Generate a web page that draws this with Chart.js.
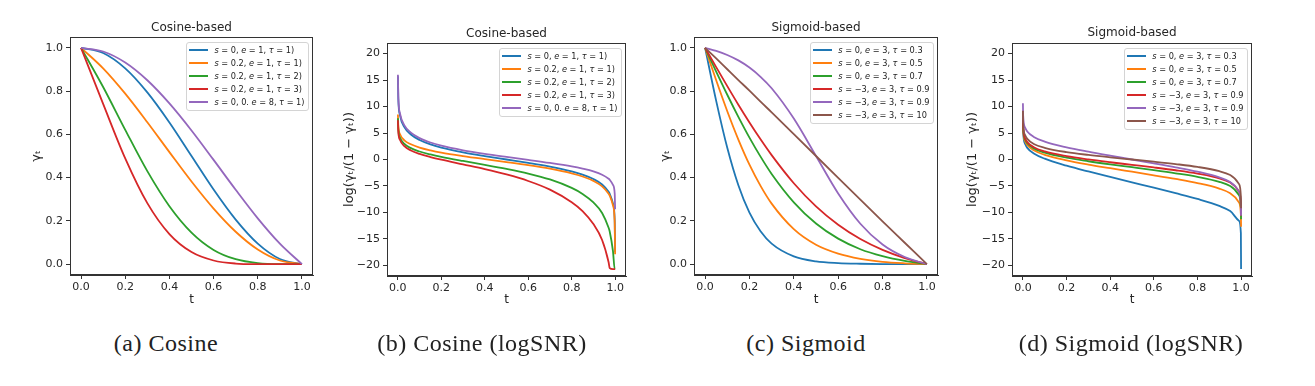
<!DOCTYPE html>
<html>
<head>
<meta charset="utf-8">
<script src="https://cdn.jsdelivr.net/npm/chart.js@4.4.0/dist/chart.umd.min.js"></script>
<style>
  body { margin: 0; background: #fff; }
  #fig { position: relative; width: 1315px; height: 386px; overflow: hidden; background: #fff; }
  .panel { position: absolute; top: 0; height: 310px; }
  .legend { position: absolute; border: 1px solid #d4d4d4; border-radius: 3px; background: rgba(255,255,255,0.85);
            padding: 1px 3px 1px 2px; font: 8.2px "DejaVu Sans"; color: #222; }
  .legend div { height: 13px; line-height: 13px; white-space: nowrap; }
  .legend .sw { display: inline-block; width: 19px; height: 2px; vertical-align: middle; margin-right: 6px; }
  .cap { position: absolute; top: 330px; font: 24px "Liberation Serif"; letter-spacing: 0.5px; color: #222; transform: translateX(-50%); white-space: nowrap; }
</style>
</head>
<body>
<div id="fig">
  <canvas id="c1" class="panel"></canvas>
  <canvas id="c2" class="panel"></canvas>
  <canvas id="c3" class="panel"></canvas>
  <canvas id="c4" class="panel"></canvas>
  <div class="cap" style="left:166px">(a) Cosine</div>
  <div class="cap" style="left:482px">(b) Cosine (logSNR)</div>
  <div class="cap" style="left:806px">(c) Sigmoid</div>
  <div class="cap" style="left:1131px">(d) Sigmoid (logSNR)</div>
</div>
<script>
// ----------------------------
// data
// ----------------------------
const colors = ["#1f77b4", "#ff7f0e", "#2ca02c", "#d62728", "#9467bd", "#8c564b"];
const xTicks = [0, 0.2, 0.4, 0.6, 0.8, 1.0];
const gammaTicks = [0, 0.2, 0.4, 0.6, 0.8, 1.0];
const snrTicks = [-20, -15, -10, -5, 0, 5, 10, 15, 20];

const cosLabels = [
  "<i>s</i> = 0, <i>e</i> = 1, <i>τ</i> = 1)",
  "<i>s</i> = 0.2, <i>e</i> = 1, <i>τ</i> = 1)",
  "<i>s</i> = 0.2, <i>e</i> = 1, <i>τ</i> = 2)",
  "<i>s</i> = 0.2, <i>e</i> = 1, <i>τ</i> = 3)",
  "<i>s</i> = 0, 0. <i>e</i> = 8, <i>τ</i> = 1)"
];
const sigLabels = [
  "<i>s</i> = 0, <i>e</i> = 3, <i>τ</i> = 0.3",
  "<i>s</i> = 0, <i>e</i> = 3, <i>τ</i> = 0.5",
  "<i>s</i> = 0, <i>e</i> = 3, <i>τ</i> = 0.7",
  "<i>s</i> = −3, <i>e</i> = 3, <i>τ</i> = 0.9",
  "<i>s</i> = −3, <i>e</i> = 3, <i>τ</i> = 0.9",
  "<i>s</i> = −3, <i>e</i> = 3, <i>τ</i> = 10"
];

// (a) cosine gamma
const tCos = [0, 0.1, 0.2, 0.3, 0.4, 0.5, 0.6, 0.7, 0.8, 0.9, 1.0];
const cosG1 = [1, 0.976, 0.905, 0.794, 0.655, 0.5, 0.345, 0.206, 0.095, 0.024, 0];
const cosG2 = [1, 0.905, 0.788, 0.656, 0.518, 0.382, 0.257, 0.150, 0.068, 0.017, 0];
const cosG3 = [1, 0.819, 0.621, 0.430, 0.268, 0.146, 0.066, 0.023, 0.005, 0.0003, 0];
const cosG4 = [1, 0.741, 0.489, 0.282, 0.139, 0.056, 0.017, 0.003, 0.0003, 0, 0];
const cosG5 = [1, 0.983, 0.932, 0.850, 0.743, 0.618, 0.482, 0.344, 0.212, 0.095, 0];

// (b) cosine logSNR
const tCosLog = [0.00025, 0.002, 0.01, 0.03, 0.06, 0.1, 0.15, 0.2, 0.3, 0.4, 0.5, 0.6, 0.7, 0.8, 0.85, 0.9, 0.94, 0.97, 0.975, 0.99, 0.998, 0.9999];
const cosL1 = [15.7, 11.5, 8.31, 6.11, 4.72, 3.69, 2.85, 2.25, 1.35, 0.64, 0, -0.64, -1.35, -2.25, -2.85, -3.69, -4.72, -6.11, -6.47, -8.31, -11.5, -17.5];
const cosL2 = [8.5, 6.4, 4.78, 3.63, 2.87, 2.25, 1.73, 1.31, 0.65, 0.07, -0.48, -1.06, -1.74, -2.62, -3.21, -4.04, -5.07, -6.46, -6.82, -8.65, -11.9, -17.9];
const cosL3 = [7.8, 5.7, 4.09, 2.93, 2.14, 1.51, 0.95, 0.49, -0.28, -1.0, -1.77, -2.65, -3.77, -5.37, -6.5, -8.11, -10.1, -12.9, -13.6, -17.3, -20.7, -20.7];
const cosL4 = [7.4, 5.3, 3.68, 2.51, 1.71, 1.05, 0.46, -0.04, -0.93, -1.82, -2.83, -4.06, -5.69, -8.07, -9.75, -12.2, -15.2, -19.4, -20.5, -20.7, -20.7, -20.7];
const cosL5 = [16.0, 11.9, 8.65, 6.45, 5.07, 4.04, 3.21, 2.61, 1.74, 1.06, 0.48, -0.07, -0.65, -1.31, -1.73, -2.25, -2.87, -3.64, -3.83, -4.81, -6.42, -9.4];

// (c) sigmoid gamma
const tSig = [0, 0.05, 0.1, 0.15, 0.2, 0.25, 0.3, 0.4, 0.5, 0.6, 0.7, 0.8, 0.9, 1.0];
const sigG1 = [1, 0.755, 0.538, 0.365, 0.238, 0.152, 0.095, 0.036, 0.013, 0.005, 0.002, 0.0006, 0.0002, 0];
const sigG2 = [1, 0.850, 0.707, 0.576, 0.460, 0.362, 0.280, 0.162, 0.090, 0.049, 0.025, 0.011, 0.004, 0];
const sigG3 = [1, 0.890, 0.783, 0.681, 0.585, 0.497, 0.417, 0.286, 0.188, 0.118, 0.069, 0.037, 0.015, 0];
const sigG4 = [1, 0.911, 0.823, 0.737, 0.655, 0.577, 0.504, 0.374, 0.267, 0.182, 0.116, 0.066, 0.028, 0];
const sigG5 = [1, 0.986, 0.967, 0.942, 0.909, 0.866, 0.813, 0.673, 0.5, 0.327, 0.187, 0.091, 0.033, 0];
const sigG6 = [1, 0.951, 0.901, 0.851, 0.802, 0.751, 0.702, 0.601, 0.5, 0.399, 0.298, 0.198, 0.099, 0];

// (d) sigmoid logSNR
const tSigLog = [0.0001, 0.001, 0.01, 0.02, 0.05, 0.1, 0.2, 0.3, 0.4, 0.5, 0.6, 0.7, 0.8, 0.9, 0.95, 0.99, 0.999, 0.9999];
const sigL1 = [7.6, 5.29, 2.95, 2.2, 1.13, 0.15, -1.16, -2.26, -3.29, -4.31, -5.32, -6.36, -7.45, -8.77, -9.74, -11.55, -13.9, -20.7];
const sigL2 = [8.1, 5.8, 3.47, 2.75, 1.74, 0.88, -0.16, -0.95, -1.64, -2.31, -2.98, -3.68, -4.46, -5.5, -6.36, -8.09, -10.4, -12.7];
const sigL3 = [8.42, 6.12, 3.79, 3.08, 2.09, 1.28, 0.34, -0.33, -0.92, -1.46, -2.01, -2.6, -3.27, -4.21, -5.02, -6.73, -9.04, -11.3];
const sigL4 = [8.63, 6.33, 4.01, 3.29, 2.32, 1.53, 0.64, 0.01, -0.52, -1.01, -1.5, -2.03, -2.66, -3.55, -4.35, -6.03, -8.34, -10.6];
const sigL5 = [10.64, 8.34, 6.01, 5.28, 4.26, 3.39, 2.3, 1.47, 0.72, 0, -0.72, -1.47, -2.3, -3.39, -4.26, -6.01, -8.34, -10.6];
const sigL6 = [9.22, 6.92, 4.6, 3.9, 2.94, 2.21, 1.4, 0.86, 0.41, 0, -0.41, -0.86, -1.4, -2.21, -2.94, -4.6, -6.92, -9.22];

// ----------------------------
// panel layout (pixels in the figure)
// ----------------------------
const FONT = "DejaVu Sans";
const INK = "#262626";
const CANVAS_H = 310;

const panels = [
  { id: "c1", frame: [70, 37, 313, 275], titleY: 28.3, yTitleX: 37, title: "Cosine-based", yLabel: "γₜ",
    yRange: [-0.05, 1.05], yTicks: gammaTicks, fmt: v => v.toFixed(1),
    t: tCos, series: [cosG1, cosG2, cosG3, cosG4, cosG5], labels: cosLabels },
  { id: "c2", frame: [387, 43, 626, 276], titleY: 34.3, yTitleX: 33, title: "Cosine-based", yLabel: "log(γₜ/(1 − γₜ))",
    yRange: [-22, 22], yTicks: snrTicks, fmt: v => (v < 0 ? "−" : "") + Math.abs(v),
    t: tCosLog, series: [cosL1, cosL2, cosL3, cosL4, cosL5], labels: cosLabels },
  { id: "c3", frame: [694, 37, 938, 275], titleY: 28.3, yTitleX: 42, title: "Sigmoid-based", yLabel: "γₜ",
    yRange: [-0.05, 1.05], yTicks: gammaTicks, fmt: v => v.toFixed(1),
    t: tSig, series: [sigG1, sigG2, sigG3, sigG4, sigG5, sigG6], labels: sigLabels },
  { id: "c4", frame: [1012, 43, 1252, 276], titleY: 33.3, yTitleX: 31, title: "Sigmoid-based", yLabel: "log(γₜ/(1 − γₜ))",
    yRange: [-22, 22], yTicks: snrTicks, fmt: v => (v < 0 ? "−" : "") + Math.abs(v),
    t: tSigLog, series: [sigL1, sigL2, sigL3, sigL4, sigL5, sigL6], labels: sigLabels }
];

// full box round the plot area, like matplotlib spines
const framePlugin = {
  id: "frame",
  afterDraw(chart) {
    const { ctx, chartArea: a } = chart;
    ctx.save();
    ctx.strokeStyle = "#333";
    ctx.lineWidth = 1;
    const l = Math.round(a.left) + 0.5, t = Math.round(a.top) + 0.5;
    const r = Math.round(a.right) - 0.5, b = Math.round(a.bottom) - 0.5;
    ctx.strokeRect(l, t, r - l, b - t);
    ctx.restore();
  }
};

function makeLegend(p) {
  const box = document.createElement("div");
  box.className = "legend";
  box.style.right = (1315 - (p.frame[2] - 4.5)) + "px";
  box.style.top = (p.frame[1] + 4.5) + "px";
  p.labels.forEach((lab, i) => {
    const row = document.createElement("div");
    row.innerHTML = '<span class="sw" style="background:' + colors[i] + '"></span>' + lab;
    box.appendChild(row);
  });
  document.getElementById("fig").appendChild(box);
}

function makePanel(p) {
  const [fl, ft, fr, fb] = p.frame;
  const left = fl - 70;
  const width = fr + 17 - left;
  const cv = document.getElementById(p.id);
  cv.style.left = left + "px";
  cv.style.width = width + "px";
  cv.style.height = CANVAS_H + "px";
  cv.width = width;
  cv.height = CANVAS_H;

  const datasets = p.series.map((vals, i) => ({
    label: p.labels[i],
    data: p.t.map((x, k) => ({ x: x, y: vals[k] })),
    borderColor: colors[i],
    borderWidth: 1.8,
    pointRadius: 0,
    fill: false,
    cubicInterpolationMode: "monotone",
    order: -i
  }));

  const tickFont = { family: FONT, size: 11 };
  new Chart(cv, {
    type: "line",
    data: { datasets },
    options: {
      responsive: false,
      animation: false,
      events: [],
      layout: { padding: { left: 0, right: 17, top: p.titleY - 7.2, bottom: 0 } },
      plugins: {
        legend: { display: false },
        tooltip: { enabled: false },
        title: {
          display: true, text: p.title, color: INK, fullSize: false,
          font: { family: FONT, size: 12, weight: "normal" },
          padding: { top: 0, bottom: ft - p.titleY - 7.2 }
        }
      },
      scales: {
        x: {
          type: "linear", min: -0.05, max: 1.05,
          afterBuildTicks: s => { s.ticks = xTicks.map(v => ({ value: v })); },
          afterFit: s => { s.height = CANVAS_H - fb; },
          ticks: { callback: v => v.toFixed(1), font: tickFont, color: INK, padding: 2, maxRotation: 0, autoSkip: false },
          grid: { drawOnChartArea: false, drawTicks: true, tickLength: 4, tickColor: "#333" },
          border: { display: true, color: "#333" },
          title: { display: true, text: "t", color: INK, font: { family: FONT, size: 12 }, padding: { top: 0, bottom: 3 } }
        },
        y: {
          type: "linear", min: p.yRange[0], max: p.yRange[1],
          afterBuildTicks: s => { s.ticks = p.yTicks.map(v => ({ value: v })); },
          afterFit: s => { s.width = 70; },
          ticks: { callback: p.fmt, font: tickFont, color: INK, padding: 3, autoSkip: false },
          grid: { drawOnChartArea: false, drawTicks: true, tickLength: 4, tickColor: "#333" },
          border: { display: true, color: "#333" },
          title: { display: true, text: p.yLabel, color: INK, font: { family: FONT, size: 13 }, padding: { top: p.yTitleX - 7.8, bottom: 0 } }
        }
      }
    },
    plugins: [framePlugin]
  });
  makeLegend(p);
}

panels.forEach(makePanel);
</script>
</body>
</html>
